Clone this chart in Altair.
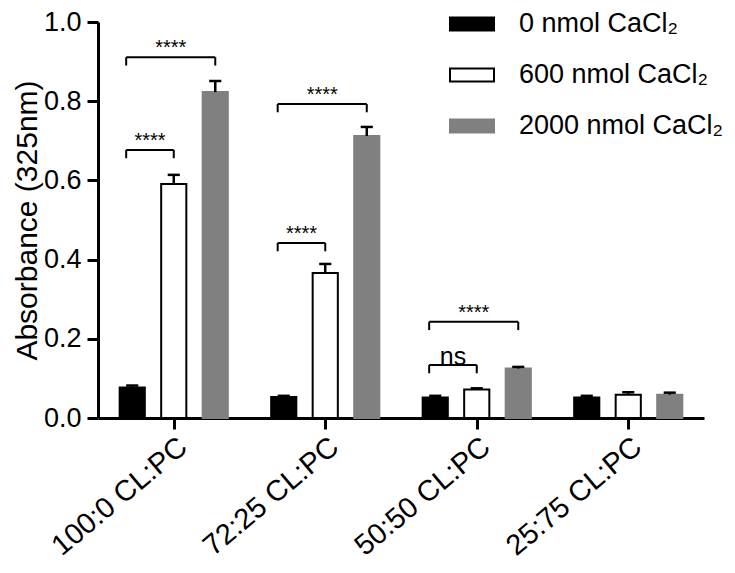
import altair as alt
import pandas as pd

# ---- data ----
categories = ["100:0 CL:PC", "72:25 CL:PC", "50:50 CL:PC", "25:75 CL:PC"]
groups = ["0 nmol CaCl₂", "600 nmol CaCl₂", "2000 nmol CaCl₂"]

mean_0 = [0.077, 0.053, 0.052, 0.052]
err_0 = [0.005, 0.003, 0.004, 0.004]
mean_600 = [0.591, 0.366, 0.072, 0.059]
err_600 = [0.023, 0.023, 0.003, 0.006]
mean_2000 = [0.823, 0.712, 0.125, 0.059]
err_2000 = [0.028, 0.023, 0.004, 0.005]

sig_cat = [0, 0, 1, 1, 2, 2]
sig_from = [0, 0, 0, 0, 0, 0]
sig_to = [1, 2, 1, 2, 1, 2]
sig_level = [0.677, 0.911, 0.442, 0.793, 0.134, 0.243]
sig_text = ["****", "****", "****", "****", "ns", "****"]

# ---- layout constants ----
GROUP_OFF = [-0.274, 0.0, 0.274]
BAR_HALF = 0.083
CAP_HALF = 0.04
LEFT_SHIFT = 0.04
DROP = 0.021
FONT = "Liberation Sans"

means = [mean_0, mean_600, mean_2000]
errs = [err_0, err_600, err_2000]
rows = []
for gi, g in enumerate(groups):
    for ci, c in enumerate(categories):
        xc = ci + GROUP_OFF[gi]
        rows.append(dict(group=g, cat=c, xc=xc, xl=xc - BAR_HALF, xr=xc + BAR_HALF,
                         capl=xc - CAP_HALF, capr=xc + CAP_HALF,
                         mean=means[gi][ci], top=means[gi][ci] + errs[gi][ci], base=0.0))
df = pd.DataFrame(rows)

srows = []
for k in range(len(sig_cat)):
    xa = sig_cat[k] + GROUP_OFF[sig_from[k]] - LEFT_SHIFT
    xb = sig_cat[k] + GROUP_OFF[sig_to[k]]
    srows.append(dict(xa=xa, xb=xb, xm=(xa + xb) / 2, lvl=sig_level[k],
                      low=sig_level[k] - DROP, label=sig_text[k]))
sdf = pd.DataFrame(srows)
legs = pd.concat([
    sdf[["xa", "lvl", "low"]].rename(columns={"xa": "xp"}),
    sdf[["xb", "lvl", "low"]].rename(columns={"xb": "xp"}),
])

label_expr = "[" + ",".join("'%s'" % c for c in categories) + "][datum.value]"

xscale = alt.Scale(domain=[-0.5, 3.5], nice=False, zero=False)
yscale = alt.Scale(domain=[0, 1], nice=False)
xaxis = alt.Axis(values=[0, 1, 2, 3], labelExpr=label_expr, labelAngle=-40,
                 labelFontSize=29, labelFont=FONT, labelColor="black",
                 tickSize=11, tickWidth=3, tickColor="black",
                 domainWidth=3, domainColor="black", grid=False,
                 labelPadding=3, labelOverlap=False)
yaxis = alt.Axis(values=[0, 0.2, 0.4, 0.6, 0.8, 1.0], format=".1f",
                 labelFontSize=27, labelFont=FONT, labelColor="black",
                 tickSize=11, tickWidth=3, tickColor="black",
                 domainWidth=3, domainColor="black", grid=False,
                 labelPadding=6, titleFontSize=30, titleFont=FONT,
                 titleFontWeight="normal", titleColor="black", titlePadding=1)


def X(f):
    return alt.X(f, scale=xscale, axis=xaxis, title=None)


def Y(f):
    return alt.Y(f, scale=yscale, axis=yaxis, title="Absorbance (325nm)")


bars = alt.Chart(df).mark_rect(strokeWidth=2).encode(
    x=X("xl:Q"), x2="xr:Q", y=Y("mean:Q"), y2="base:Q",
    fill=alt.Fill("group:N", scale=alt.Scale(domain=groups, range=["#000000", "#ffffff", "#808080"]),
                  legend=alt.Legend(title=None, orient="none", legendX=351, legendY=-21,
                                    symbolType="M-1,-0.3H1V0.3H-1Z", symbolSize=1936,
                                    symbolStrokeWidth=2, labelFontSize=27, labelFont=FONT,
                                    labelColor="black", labelOffset=24, rowPadding=15,
                                    padding=0, labelLimit=400)),
    stroke=alt.Stroke("group:N", scale=alt.Scale(domain=groups, range=["#000000", "#000000", "#808080"]),
                      legend=None),
)

err_v = alt.Chart(df).mark_rule(color="black", strokeWidth=2.5).encode(
    x=X("xc:Q"), y=Y("mean:Q"), y2="top:Q")
err_cap = alt.Chart(df).mark_rule(color="black", strokeWidth=2.5).encode(
    x=X("capl:Q"), x2="capr:Q", y=Y("top:Q"))

br_h = alt.Chart(sdf).mark_rule(color="black", strokeWidth=2).encode(
    x=X("xa:Q"), x2="xb:Q", y=Y("lvl:Q"))
br_v = alt.Chart(legs).mark_rule(color="black", strokeWidth=2).encode(
    x=X("xp:Q"), y=Y("lvl:Q"), y2="low:Q")

stars = alt.Chart(sdf).transform_filter("datum.label != 'ns'").mark_text(
    font=FONT, fontSize=20, color="black", baseline="alphabetic", dy=-3).encode(
    x=X("xm:Q"), y=Y("lvl:Q"), text="label:N")
ns = alt.Chart(sdf).transform_filter("datum.label == 'ns'").mark_text(
    font=FONT, fontSize=25, color="black", baseline="alphabetic", dy=0).encode(
    x=X("xm:Q"), y=Y("lvl:Q"), text="label:N")

chart = alt.layer(bars, err_v, err_cap, br_h, br_v, stars, ns).properties(
    width=606, height=396,
    autosize=alt.AutoSizeParams(type="none"),
    padding={"left": 90, "top": 14, "right": 23, "bottom": 147},
    background="white",
).configure_view(stroke=None)

chart.save("out.html", embed_options={"renderer": "svg", "actions": False})
